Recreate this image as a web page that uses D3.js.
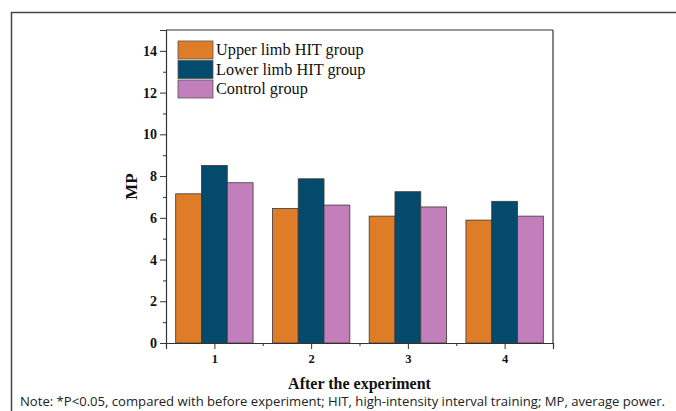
<!DOCTYPE html>
<html>
<head>
<meta charset="utf-8">
<script src="https://cdn.jsdelivr.net/npm/d3@7"></script>
<style>
  body { margin: 0; background: #fff; }
  svg { display: block; }
</style>
</head>
<body>
<div id="chart"></div>
<script>
// data
const stages = [1, 2, 3, 4];
const groups = ["Upper limb HIT group", "Lower limb HIT group", "Control group"];
const upperLimb = [7.15, 6.45, 6.08, 5.89];
const lowerLimb = [8.51, 7.87, 7.25, 6.79];
const control = [7.68, 6.61, 6.52, 6.08];
const yTicks = [0, 2, 4, 6, 8, 10, 12, 14];
const colors = ["#de7c27", "#034a6d", "#c37fbb"];

const series = [upperLimb, lowerLimb, control];

const W = 676, H = 411;
const margin = {top: 30, right: 123, bottom: 68, left: 166};
const width = W - margin.left - margin.right;
const height = H - margin.top - margin.bottom;
const serif = "'Liberation Serif', 'Times New Roman', serif";

const svg = d3.select("#chart").append("svg")
    .attr("width", W)
    .attr("height", H);

// outer frame of the figure (runs off the right/bottom edge)
svg.append("path")
    .attr("d", "M11.5," + (H + 5) + "V12.5H" + (W + 5))
    .attr("fill", "none")
    .attr("stroke", "#444")
    .attr("stroke-width", 1.5);

const g = svg.append("g")
    .attr("transform", "translate(" + margin.left + "," + margin.top + ")");

const x = d3.scaleLinear().domain([0.5, 4.5]).range([0, width]);
const y = d3.scaleLinear().domain([0, 15]).range([height, 0]);

const groupW = (x(2) - x(1)) * 0.8;
const xInner = d3.scaleBand().domain(d3.range(groups.length)).range([-groupW / 2, groupW / 2]);

// bars
series.forEach((vals, si) => {
    g.selectAll(".bar" + si)
        .data(vals)
        .join("rect")
        .attr("x", (d, i) => x(stages[i]) + xInner(si))
        .attr("y", d => y(d))
        .attr("width", xInner.bandwidth())
        .attr("height", d => y(0) - y(d))
        .attr("fill", colors[si])
        .attr("stroke", "#3a3a3a")
        .attr("stroke-width", 0.8);
});

// frame lines top / right
g.append("line").attr("x1", 0).attr("x2", width).attr("y1", 0).attr("y2", 0)
    .attr("stroke", "#333").attr("stroke-width", 1.2);
g.append("line").attr("x1", width).attr("x2", width).attr("y1", 0).attr("y2", height)
    .attr("stroke", "#333").attr("stroke-width", 1.2);

// y axis
const yAxis = g.append("g")
    .call(d3.axisLeft(y).tickValues(yTicks).tickSize(6).tickPadding(3).tickFormat(d3.format("d")));
g.append("g")
    .call(d3.axisLeft(y).tickValues([1, 3, 5, 7, 9, 11, 13]).tickSize(3).tickFormat(""))
    .select(".domain").remove();
yAxis.selectAll(".tick text").attr("font-size", 14);

// x axis
const xAxis = g.append("g")
    .attr("transform", "translate(0," + height + ")")
    .call(d3.axisBottom(x).tickValues(stages).tickSize(6).tickPadding(5).tickFormat(d3.format("d")));
g.append("g")
    .attr("transform", "translate(0," + height + ")")
    .call(d3.axisBottom(x).tickValues([1.5, 2.5, 3.5]).tickSize(3).tickFormat(""))
    .select(".domain").remove();
xAxis.selectAll(".tick text").attr("font-size", 12.5);

g.selectAll(".domain").attr("stroke", "#333").attr("stroke-width", 1.2);
g.selectAll(".tick line").attr("stroke", "#333").attr("stroke-width", 1);
g.selectAll(".tick text")
    .attr("font-family", serif)
    .attr("font-weight", "bold")
    .attr("fill", "#111");

// axis titles
g.append("text")
    .attr("x", width / 2)
    .attr("y", height + 46)
    .attr("text-anchor", "middle")
    .attr("font-family", serif)
    .attr("font-weight", "bold")
    .attr("font-size", 16)
    .attr("fill", "#111")
    .text("After the experiment");

g.append("text")
    .attr("transform", "translate(" + (-29) + "," + (height / 2) + ") rotate(-90)")
    .attr("text-anchor", "middle")
    .attr("font-family", serif)
    .attr("font-weight", "bold")
    .attr("font-size", 17)
    .attr("fill", "#111")
    .text("MP");

// legend
const legend = g.append("g").attr("transform", "translate(12,11)");
groups.forEach((name, i) => {
    const row = legend.append("g").attr("transform", "translate(0," + (i * 19.5) + ")");
    row.append("rect")
        .attr("width", 35)
        .attr("height", 18)
        .attr("fill", colors[i])
        .attr("stroke", "#555")
        .attr("stroke-width", 0.8);
    row.append("text")
        .attr("x", 38)
        .attr("y", 14)
        .attr("font-family", serif)
        .attr("font-size", 16.3)
        .attr("fill", "#111")
        .text(name);
});

// note under the figure
svg.append("text")
    .attr("x", 20)
    .attr("y", 405.5)
    .attr("font-family", "'Open Sans', 'Noto Sans', sans-serif")
    .attr("font-size", 12.5)
    .attr("fill", "#222")
    .attr("textLength", 645)
    .attr("lengthAdjust", "spacingAndGlyphs")
    .text("Note: *P<0.05, compared with before experiment; HIT, high-intensity interval training; MP, average power.");
</script>
</body>
</html>
